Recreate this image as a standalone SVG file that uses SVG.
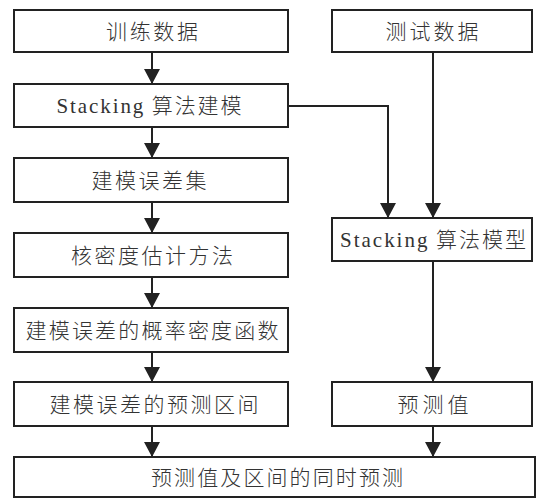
<svg xmlns="http://www.w3.org/2000/svg" width="537" height="499" viewBox="0 0 537 499">
<style>
rect.box{fill:#fff;stroke:#222;stroke-width:2}
text{font-family:"Noto Sans CJK SC","Noto Sans",sans-serif;font-size:21px;font-weight:300;fill:#333;text-anchor:middle}
tspan.lat{font-family:"Liberation Serif",serif;font-size:21px;font-weight:normal}
.ln{fill:none;stroke:#222;stroke-width:2;marker-end:url(#ah)}
</style>
<defs>
<marker id="ah" markerUnits="userSpaceOnUse" markerWidth="16" markerHeight="16" refX="15" refY="8" orient="auto" viewBox="0 0 16 16">
<path d="M0,0 L15,8 L0,16 z" fill="#222"/>
</marker>
</defs>
<g id="connectors">
<line class="ln" x1="152" y1="52" x2="152" y2="84"/>
<line class="ln" x1="152" y1="127" x2="152" y2="158"/>
<line class="ln" x1="152" y1="202" x2="152" y2="233"/>
<line class="ln" x1="152" y1="277" x2="152" y2="308"/>
<line class="ln" x1="152" y1="352" x2="152" y2="382"/>
<line class="ln" x1="152" y1="426" x2="152" y2="457"/>
<polyline class="ln" points="288,106 388,106 388,218"/>
<line class="ln" x1="433" y1="52" x2="433" y2="218"/>
<line class="ln" x1="433" y1="261" x2="433" y2="382"/>
<line class="ln" x1="433" y1="426" x2="433" y2="457"/>
</g>
<g id="n1"><rect class="box" x="14" y="10" width="274" height="42"/><text x="152" y="39" textLength="92">训练数据</text></g>
<g id="n2"><rect class="box" x="14" y="84" width="274" height="43"/><text x="149" y="113" textLength="185"><tspan class="lat">Stacking</tspan> 算法建模</text></g>
<g id="n3"><rect class="box" x="14" y="158" width="274" height="44"/><text x="149" y="188" textLength="115">建模误差集</text></g>
<g id="n4"><rect class="box" x="14" y="233" width="274" height="44"/><text x="152" y="263" textLength="162">核密度估计方法</text></g>
<g id="n5"><rect class="box" x="14" y="308" width="274" height="44"/><text x="152" y="338" textLength="253">建模误差的概率密度函数</text></g>
<g id="n6"><rect class="box" x="14" y="382" width="274" height="44"/><text x="154" y="412" textLength="209">建模误差的预测区间</text></g>
<g id="n7"><rect class="box" x="332" y="10" width="200" height="42"/><text x="432" y="39" textLength="93">测试数据</text></g>
<g id="n8"><rect class="box" x="332" y="218" width="200" height="43"/><text x="433" y="247" textLength="186"><tspan class="lat">Stacking</tspan> 算法模型</text></g>
<g id="n9"><rect class="box" x="332" y="382" width="200" height="44"/><text x="433" y="412" textLength="71">预测值</text></g>
<g id="n10"><rect class="box" x="14" y="457" width="521" height="40"/><text x="277" y="485" textLength="252">预测值及区间的同时预测</text></g>
</svg>
